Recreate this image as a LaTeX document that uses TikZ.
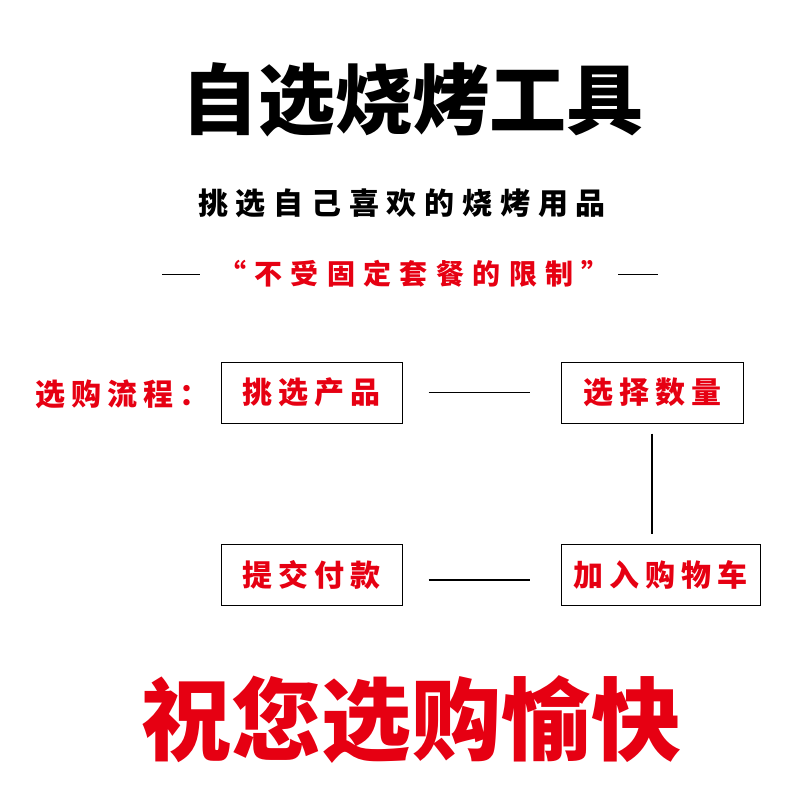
\documentclass[tikz,border=0pt]{standalone}
\usepackage{fontspec}
\newfontfamily\cjk{Noto Sans CJK SC}
\definecolor{rd}{RGB}{230,0,18}
\begin{document}
\begin{tikzpicture}[x=1pt,y=1pt,
 box/.style={draw=black,line width=1pt,minimum height=61pt,inner sep=0pt},
 bt/.style={font=\cjk\bfseries\fontsize{30}{30}\selectfont\addfontfeature{LetterSpace=20},text=rd},
 conn/.style={line width=1.2pt}]
\useasboundingbox (0,0) rectangle (800,-800);
\node[font=\cjk\bfseries\fontsize{77}{80}\selectfont] (title) at (412,-100) {自选烧烤工具};
\node[font=\cjk\bfseries\fontsize{30}{32}\selectfont\addfontfeature{LetterSpace=26}] (sub) at (402,-203) {挑选自己喜欢的烧烤用品};
\node[font=\cjk\bfseries\fontsize{28}{30}\selectfont\addfontfeature{LetterSpace=30},text=rd] (slogan) at (414,-274) {“不受固定套餐的限制”};
\coordinate (l1) at (162,-274); \coordinate (l2) at (200,-274);
\coordinate (r1) at (618,-274); \coordinate (r2) at (658,-274);
\draw[line width=1pt] (l1)--(l2); \draw[line width=1pt] (r1)--(r2);
\node[bt,anchor=west] (lab) at (32,-394) {选购流程：};
\node[box,bt,minimum width=181pt] (b1) at (311.5,-392.5) {挑选产品};
\node[box,bt,minimum width=182pt] (b2) at (652,-392.5) {选择数量};
\node[box,bt,minimum width=199pt] (b3) at (660.5,-574.5) {加入购物车};
\node[box,bt,minimum width=181pt] (b4) at (311.5,-574.5) {提交付款};
\draw[conn] ([xshift=26pt]b1.east) -- ([xshift=-31pt]b2.west);
\draw[conn] ([yshift=-10pt]b2.south) -- ([yshift=10pt]b2.south|-b3.north);
\draw[conn] ([xshift=26pt]b4.east|-0,-580) -- ([xshift=-31pt]b3.west|-0,-580);
\node[font=\cjk\bfseries\fontsize{90}{94}\selectfont,text=rd] (bye) at (411,-720) {祝您选购愉快};
\end{tikzpicture}
\end{document}
